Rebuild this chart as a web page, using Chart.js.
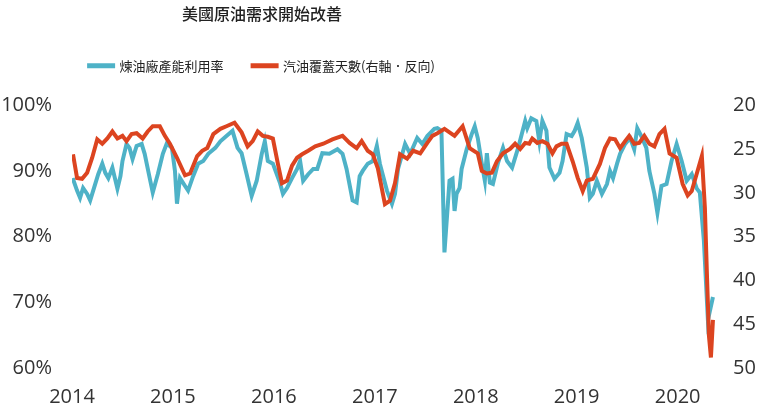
<!DOCTYPE html>
<html lang="zh-Hant">
<head>
  <meta charset="UTF-8" />
  <title>美國原油需求開始改善</title>
  <script src="https://cdn.jsdelivr.net/npm/chart.js"></script>
  <style>
    html, body { margin: 0; padding: 0; background: #fff; }
  </style>
</head>
<body>
  <canvas id="grafik" width="760" height="406"></canvas>

  <script>
    // 煉油廠產能利用率 (%), left axis
    const refDates = [
      2014.007, 2014.05, 2014.08, 2014.11, 2014.15, 2014.18, 2014.21, 2014.26, 2014.30, 2014.33, 2014.36, 2014.40, 2014.45, 2014.48, 2014.50, 2014.54, 2014.57, 2014.60, 2014.64, 2014.69, 2014.72, 2014.77, 2014.80, 2014.85, 2014.90, 2014.94, 2014.99,
      2015.02, 2015.04, 2015.07, 2015.12, 2015.15, 2015.20, 2015.25, 2015.30, 2015.35, 2015.42, 2015.47, 2015.53, 2015.59, 2015.64, 2015.68, 2015.73, 2015.78, 2015.83, 2015.88, 2015.91, 2015.94, 2015.99,
      2016.06, 2016.09, 2016.13, 2016.18, 2016.23, 2016.26, 2016.29, 2016.34, 2016.39, 2016.43, 2016.48, 2016.55, 2016.63, 2016.68, 2016.72, 2016.78, 2016.82, 2016.85, 2016.88, 2016.93, 2016.98,
      2017.02, 2017.05, 2017.12, 2017.17, 2017.20, 2017.23, 2017.30, 2017.35, 2017.42, 2017.47, 2017.52, 2017.59, 2017.62, 2017.66, 2017.69, 2017.74, 2017.77, 2017.79, 2017.81, 2017.84, 2017.86, 2017.91, 2017.96, 2017.99,
      2018.02, 2018.06, 2018.09, 2018.11, 2018.14, 2018.17, 2018.22, 2018.27, 2018.31, 2018.36, 2018.42, 2018.49, 2018.51, 2018.55, 2018.60, 2018.63, 2018.66, 2018.70, 2018.73, 2018.78, 2018.83, 2018.86, 2018.90, 2018.95, 2018.98,
      2019.01, 2019.05, 2019.10, 2019.13, 2019.16, 2019.20, 2019.25, 2019.30, 2019.33, 2019.36, 2019.40, 2019.43, 2019.48, 2019.53, 2019.57, 2019.60, 2019.64, 2019.69, 2019.72, 2019.77, 2019.80, 2019.84, 2019.89, 2019.94, 2019.99,
      2020.04, 2020.09, 2020.14, 2020.19, 2020.22, 2020.26, 2020.30, 2020.35
    ];
    const refRate = [
      88.9, 87.0, 85.9, 87.4, 86.5, 85.5, 87.0, 89.5, 91.1, 89.7, 88.9, 90.5, 87.3, 89.2, 91.5, 94.1, 93.5, 91.8, 93.8, 94.1, 92.6, 88.9, 86.7, 89.5, 92.6, 94.2, 93.5,
      90.0, 85.0, 88.9, 87.7, 87.0, 89.2, 91.1, 91.5, 92.6, 93.5, 94.5, 95.3, 96.1, 93.5, 92.7, 89.5, 86.2, 88.5, 92.6, 94.5, 91.5, 91.1,
      88.2, 86.5, 87.4, 88.9, 90.3, 91.5, 88.5, 89.5, 90.3, 90.3, 92.7, 92.6, 93.3, 92.6, 90.3, 85.5, 85.2, 89.2, 90.0, 91.1, 91.5,
      93.8, 91.1, 87.0, 85.0, 86.5, 90.3, 94.1, 92.6, 95.0, 94.1, 95.3, 96.4, 96.5, 96.1, 77.6, 88.5, 88.8, 83.9, 86.5, 87.4, 90.3, 93.3, 95.6, 96.8,
      95.0, 91.1, 88.5, 92.7, 88.2, 88.0, 91.2, 93.5, 91.5, 90.5, 93.5, 97.6, 96.5, 98.0, 97.6, 94.5, 97.6, 96.1, 90.5, 88.8, 89.7, 91.5, 95.6, 95.3, 96.1,
      97.3, 95.0, 90.5, 85.9, 86.5, 88.5, 86.5, 88.0, 90.0, 88.9, 91.1, 92.6, 94.1, 95.0, 93.3, 96.5, 95.3, 93.5, 90.0, 86.5, 83.6, 87.7, 88.0, 91.5, 94.1,
      91.5, 88.5, 89.5, 87.3, 86.7, 79.4, 67.3, 70.8
    ];

    // 汽油覆蓋天數, right axis (reversed)
    const gasDates = [
      2014.01, 2014.05, 2014.10, 2014.15, 2014.20, 2014.25, 2014.30, 2014.35, 2014.40, 2014.45, 2014.50, 2014.54, 2014.59, 2014.64, 2014.70, 2014.75, 2014.80, 2014.87, 2014.92, 2014.97,
      2015.04, 2015.12, 2015.17, 2015.24, 2015.29, 2015.34, 2015.40, 2015.47, 2015.53, 2015.61, 2015.68, 2015.74, 2015.79, 2015.84, 2015.89, 2015.94, 2015.99,
      2016.04, 2016.08, 2016.13, 2016.18, 2016.23, 2016.28, 2016.34, 2016.41, 2016.49, 2016.58, 2016.68, 2016.75, 2016.82, 2016.87, 2016.93, 2016.98,
      2017.03, 2017.10, 2017.15, 2017.20, 2017.25, 2017.32, 2017.38, 2017.45, 2017.52, 2017.57, 2017.62, 2017.69, 2017.79, 2017.87, 2017.94,
      2018.02, 2018.06, 2018.11, 2018.16, 2018.21, 2018.27, 2018.34, 2018.39, 2018.44, 2018.49, 2018.53, 2018.56, 2018.61, 2018.66, 2018.71, 2018.76, 2018.80, 2018.85, 2018.90, 2018.96,
      2019.01, 2019.06, 2019.10, 2019.16, 2019.23, 2019.28, 2019.33, 2019.38, 2019.43, 2019.48, 2019.52, 2019.57, 2019.62, 2019.67, 2019.72, 2019.77, 2019.82, 2019.87, 2019.92, 2019.99,
      2020.05, 2020.10, 2020.14, 2020.19, 2020.24, 2020.27, 2020.29, 2020.31, 2020.33, 2020.35
    ];
    const gasDays = [
      25.6, 28.3, 28.4, 27.7, 26.0, 23.9, 24.4, 23.8, 23.0, 23.8, 23.5, 24.1, 23.3, 23.2, 23.8, 23.0, 22.4, 22.4, 23.5, 24.4,
      26.0, 28.0, 27.8, 25.8, 25.2, 24.9, 23.3, 22.7, 22.4, 22.0, 23.1, 24.7, 24.1, 23.0, 23.5, 23.6, 23.8,
      26.7, 28.9, 28.6, 26.9, 26.0, 25.6, 25.2, 24.7, 24.4, 23.9, 23.5, 24.3, 24.9, 24.1, 25.2, 25.6,
      27.2, 31.3, 30.9, 28.9, 25.6, 26.1, 25.2, 25.5, 24.3, 23.5, 23.2, 22.7, 23.5, 22.4, 24.9,
      25.5, 27.5, 27.8, 27.7, 26.4, 25.5, 25.0, 24.4, 25.0, 24.3, 24.4, 23.8, 24.3, 24.1, 24.4, 25.5, 24.7, 24.4, 24.4, 26.4,
      28.3, 29.8, 28.6, 28.4, 26.7, 24.9, 23.8, 23.9, 24.9, 24.1, 23.5, 24.4, 24.3, 23.5, 24.4, 24.7, 23.3, 22.7, 25.5, 26.0,
      29.0, 30.3, 29.8, 27.8, 25.8, 31.7, 39.2, 46.3, 48.8, 44.5
    ];

    const yearTicks = [2014, 2015, 2016, 2017, 2018, 2019, 2020];
    const leftTicks = [60, 70, 80, 90, 100];
    const rightTicks = [20, 25, 30, 35, 40, 45, 50];

    const judul = '美國原油需求開始改善';
    const namaRef = '煉油廠產能利用率';
    const namaGas = '汽油覆蓋天數(右軸．反向)';

    const biru = '#4eb2c7';
    const merah = '#dc4420';
    const fontAngka = { family: "'Open Sans', 'DejaVu Sans', sans-serif", size: 20 };
    const fontCJK = "'Noto Sans CJK TC', 'Noto Sans CJK SC', sans-serif";

    // title + legend sit centred over the left part of the canvas, legend a bit higher
    const geserJudul = {
      id: 'geserJudul',
      afterLayout(chart) {
        [chart.titleBlock, chart.legend].forEach(b => {
          if (!b) return;
          b.left = 0; b.right = 524; b.width = 524;
        });
        if (chart.legend) {
          chart.legend.top -= 23;
          chart.legend.bottom -= 23;
        }
      }
    };

    const ctx = document.getElementById('grafik').getContext('2d');
    new Chart(ctx, {
      type: 'line',
      data: {
        datasets: [
          {
            label: namaRef,
            data: refDates.map((x, i) => ({ x, y: refRate[i] })),
            borderColor: biru, backgroundColor: biru,
            borderWidth: 4, pointRadius: 0, yAxisID: 'yL', order: 1
          },
          {
            label: namaGas,
            data: gasDates.map((x, i) => ({ x, y: gasDays[i] })),
            borderColor: merah, backgroundColor: merah,
            borderWidth: 4, pointRadius: 0, yAxisID: 'yR', order: 0
          }
        ]
      },
      options: {
        responsive: false,
        animation: false,
        layout: { padding: 0 },
        plugins: {
          title: {
            display: true, text: judul, color: '#222',
            font: { family: fontCJK, size: 16, weight: '500' },
            padding: { top: 4, bottom: 30 }
          },
          legend: {
            labels: {
              color: '#222', boxWidth: 24, boxHeight: 1,
              font: { family: fontCJK, size: 13 },
              padding: 29,
              sort: (a, b) => a.datasetIndex - b.datasetIndex
            }
          },
          tooltip: { enabled: false }
        },
        scales: {
          x: {
            type: 'linear', min: 2014, max: 2020.4,
            grid: { display: false }, border: { display: false },
            afterBuildTicks: s => { s.ticks = yearTicks.map(v => ({ value: v })); },
            afterFit: s => { s.height = 38; },
            ticks: {
              includeBounds: false, padding: 9, color: '#333', font: fontAngka, maxRotation: 0,
              callback: v => String(v)
            }
          },
          yL: {
            position: 'left', min: 60, max: 100,
            grid: { display: false }, border: { display: false },
            afterBuildTicks: s => { s.ticks = leftTicks.map(v => ({ value: v })); },
            afterFit: s => { s.width = 72; },
            ticks: { padding: 12, color: '#333', font: fontAngka, callback: v => v + '%' }
          },
          yR: {
            position: 'right', min: 20, max: 50, reverse: true,
            grid: { display: false }, border: { display: false },
            afterBuildTicks: s => { s.ticks = rightTicks.map(v => ({ value: v })); },
            afterFit: s => { s.width = 42; },
            ticks: { padding: 7, color: '#333', font: fontAngka }
          }
        }
      },
      plugins: [geserJudul]
    });
  </script>
</body>
</html>
